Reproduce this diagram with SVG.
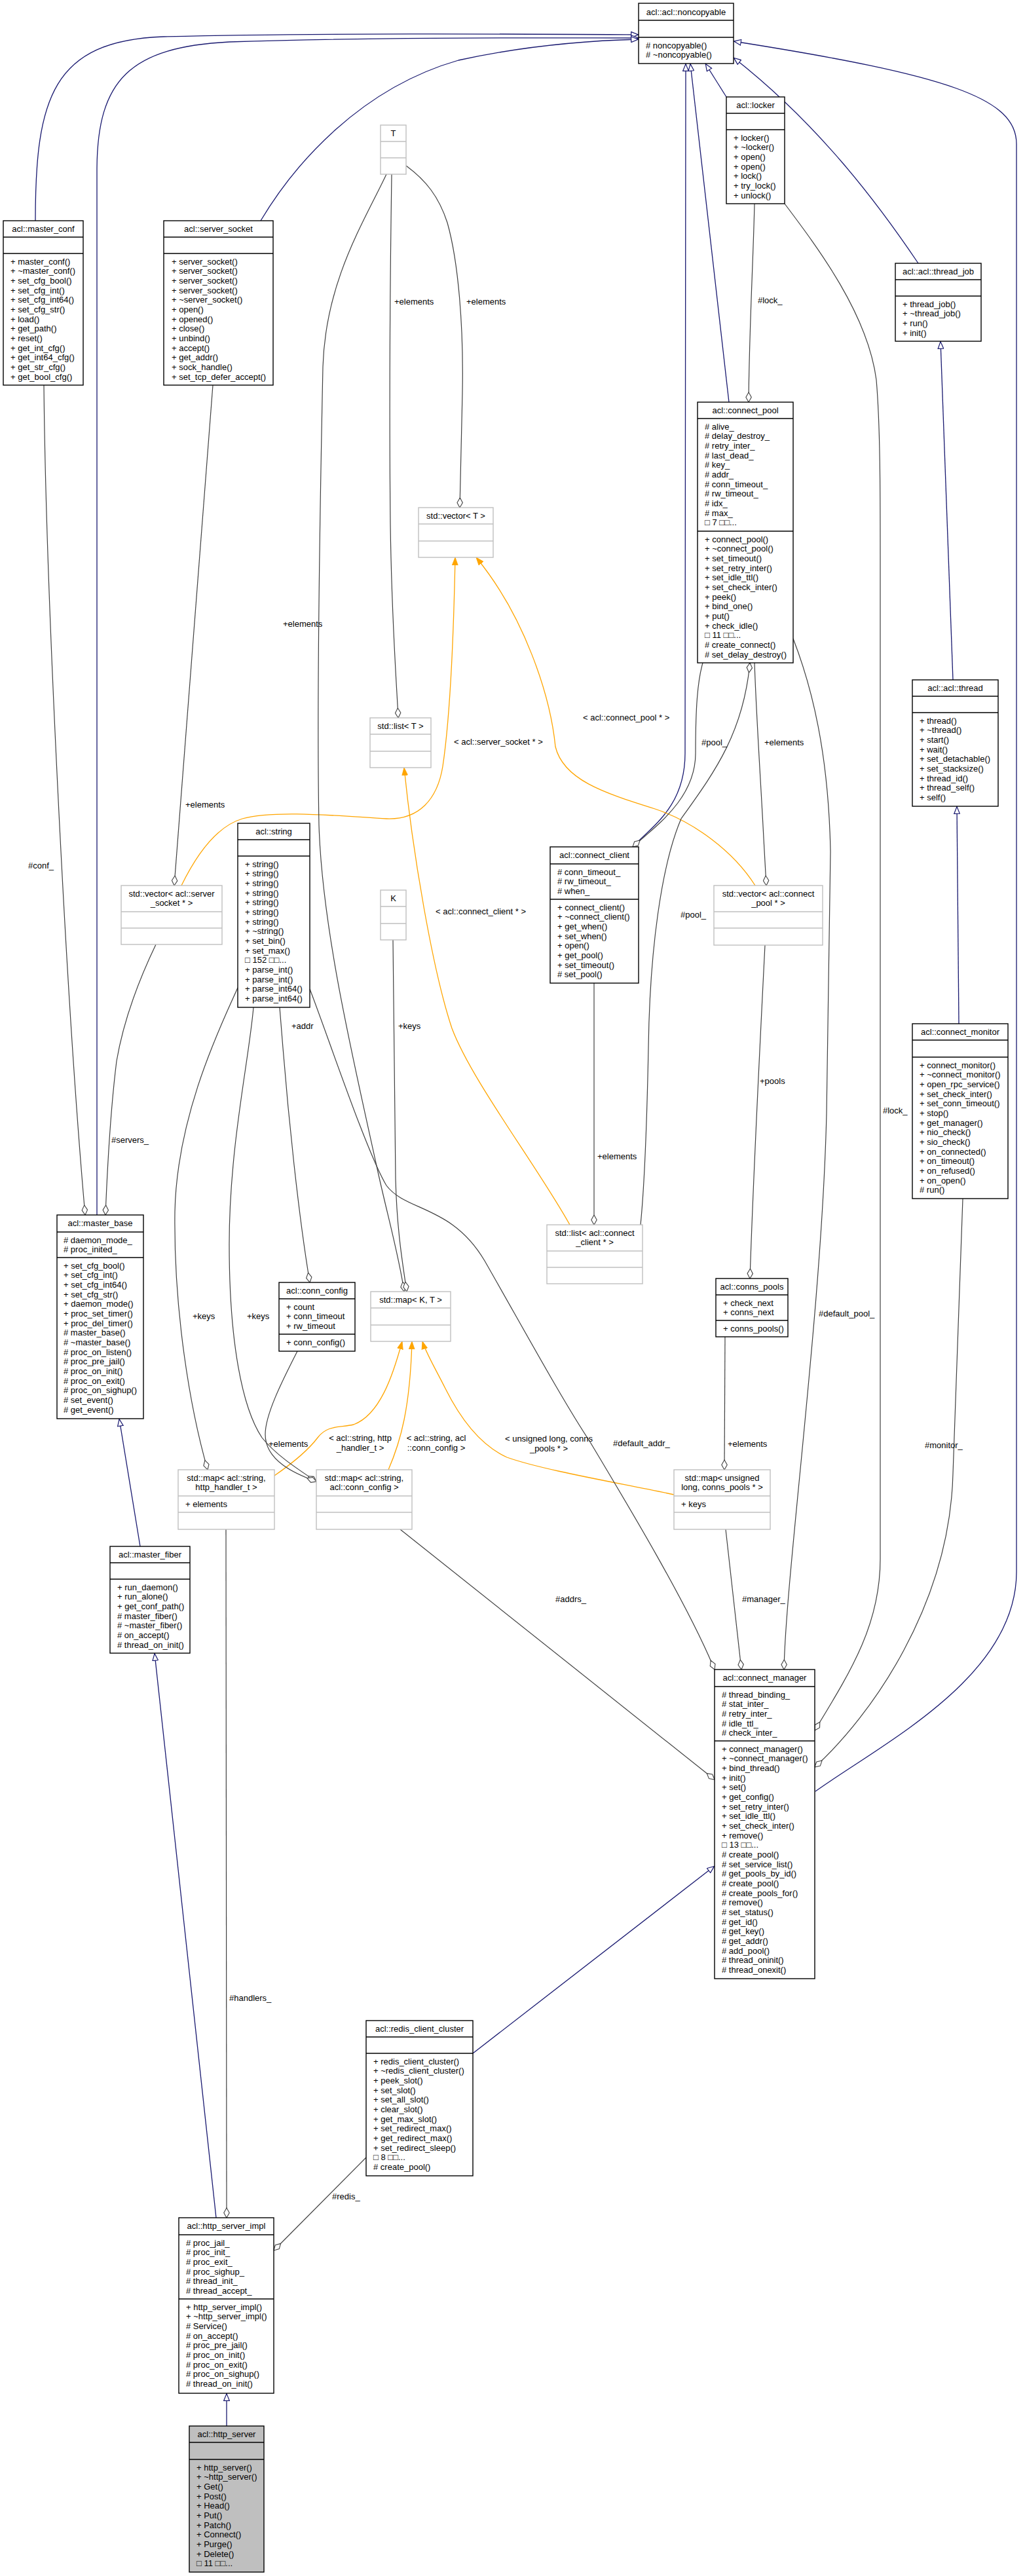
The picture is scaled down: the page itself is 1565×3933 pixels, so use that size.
<svg xmlns="http://www.w3.org/2000/svg" width="1565" height="3933" viewBox="0 0 1565 3933">
<style>
text{font-family:"Liberation Sans",Arial,sans-serif;font-size:13px;fill:#000}
.h{text-anchor:middle}
.c{text-anchor:middle}
.box{fill:#fff;stroke:#000;stroke-width:1.4}
.sel{fill:#bfbfbf;stroke:#000;stroke-width:1.4}
.ext{fill:#fff;stroke:#bfbfbf;stroke-width:1.4}
.s{stroke:#000;stroke-width:1.4}
.sx{stroke:#bfbfbf;stroke-width:1.4}
.inh{fill:none;stroke:#191970;stroke-width:1.3;marker-end:url(#mInh)}
.tpl{fill:none;stroke:#ffa500;stroke-width:1.3;marker-end:url(#mTpl)}
.use{fill:none;stroke:#404040;stroke-width:1.2;marker-end:url(#mDia)}
</style>
<defs>
<marker id="mInh" viewBox="0 0 12 10" refX="12" refY="5" markerWidth="12" markerHeight="10" orient="auto" markerUnits="userSpaceOnUse"><path d="M0.7,0.7 L11.4,5 L0.7,9.3 z" fill="#fff" stroke="#191970" stroke-width="1.2"/></marker>
<marker id="mTpl" viewBox="0 0 12 10" refX="12" refY="5" markerWidth="12" markerHeight="10" orient="auto" markerUnits="userSpaceOnUse"><path d="M0,0.5 L12,5 L0,9.5 z" fill="#ffa500" stroke="#ffa500" stroke-width="0.8"/></marker>
<marker id="mDia" viewBox="0 0 16 10" refX="15.5" refY="5" markerWidth="16" markerHeight="10" orient="auto" markerUnits="userSpaceOnUse"><path d="M0.5,5 L8,0.8 L15.5,5 L8,9.2 z" fill="#fff" stroke="#404040" stroke-width="1.1"/></marker>
</defs>
<rect width="1565" height="3933" fill="#fff"/>

<g id="connectors">
<path class="inh" d="M54,337 C54,150 80,62 250,56 C500,50 800,52 975,53"/>
<path class="inh" d="M148,1855 L148,260 C148,120 200,72 350,64 C600,56 850,58 975,58"/>
<path class="inh" d="M398,337 C450,250 550,135 700,92 C800,70 900,62 975,60"/>
<path class="inh" d="M1109,148 L1077,97"/>
<path class="inh" d="M1113,614 L1054,97"/>
<path class="inh" d="M966,1293 C995,1262 1046,1232 1046,1150 L1047,97"/>
<path class="inh" d="M1402,402 C1340,310 1250,190 1120,88"/>
<path class="inh" d="M1245,2735 C1350,2660 1552,2560 1552,2400 L1552,220 C1552,150 1450,115 1120,63"/>
<path class="inh" d="M1455,1038 L1436,521"/>
<path class="inh" d="M1464,1563 L1461,1231"/>
<path class="inh" d="M214,2361 L182,2166"/>
<path class="inh" d="M330,3386 L236,2524"/>
<path class="inh" d="M346,3704 L346,3654"/>
<path class="inh" d="M722,3135 L1091,2849"/>
<path class="tpl" d="M277,1352 C300,1305 330,1262 370,1250 C420,1236 520,1246 590,1250 C640,1252 668,1220 676,1170 C688,1090 693,950 695,851"/>
<path class="tpl" d="M1153,1352 C1120,1300 1060,1255 1000,1235 C920,1210 860,1190 848,1140 C840,1060 800,940 727,851"/>
<path class="tpl" d="M870,1870 C820,1780 720,1650 690,1570 C660,1480 630,1300 617,1172"/>
<path class="tpl" d="M419,2253 C445,2235 470,2215 485,2195 C500,2175 520,2180 540,2175 C580,2160 600,2100 614,2048"/>
<path class="tpl" d="M593,2244 C612,2200 626,2150 629,2048"/>
<path class="tpl" d="M1029,2282 C950,2265 830,2245 774,2225 C730,2205 700,2160 680,2120 C665,2090 650,2065 645,2048"/>
<path class="use" d="M620,253 C650,275 670,300 683,340 C700,400 708,500 706,600 L702,775"/>
<path class="use" d="M598,266 C596,400 594,600 596,800 C598,950 606,1050 608,1096"/>
<path class="use" d="M590,266 C555,340 497,430 493,560 C488,800 484,1100 487,1260 C492,1420 540,1620 575,1780 C590,1850 610,1920 617,1972"/>
<path class="use" d="M600,1435 L604,1800 C606,1880 615,1930 621,1972"/>
<path class="use" d="M325,588 L266,1352"/>
<path class="use" d="M67,588 C70,900 100,1500 127,1820 L130,1855"/>
<path class="use" d="M238,1442 C215,1490 190,1550 178,1620 C168,1700 164,1780 161,1855"/>
<path class="use" d="M363,1508 C340,1560 270,1700 267,1850 C265,2000 290,2150 317,2244"/>
<path class="use" d="M387,1538 C380,1620 350,1750 350,1900 C350,2050 370,2150 400,2195 C420,2220 450,2240 483,2262"/>
<path class="use" d="M427,1538 L432,1600 C440,1700 455,1850 473,1958"/>
<path class="use" d="M454,2063 C430,2110 405,2160 405,2190 C405,2230 450,2250 483,2262"/>
<path class="use" d="M473,1510 C500,1580 560,1760 590,1810 C620,1850 690,1840 740,1925 C800,2030 860,2140 900,2200 C960,2300 1050,2450 1091,2549"/>
<path class="use" d="M345,2335 L346,3386"/>
<path class="use" d="M611,2335 L1091,2717"/>
<path class="use" d="M1152,311 C1150,400 1144,500 1143,614"/>
<path class="use" d="M1198,311 C1250,380 1325,480 1338,580 C1344,650 1344,750 1344,850 L1344,2380 C1344,2480 1300,2550 1244,2642"/>
<path class="use" d="M1211,975 C1240,1050 1265,1150 1268,1300 L1262,1700 C1255,2000 1200,2400 1197,2549"/>
<path class="use" d="M1073,1012 C1065,1040 1062,1080 1062,1150 C1062,1220 1000,1262 966,1293"/>
<path class="use" d="M978,1870 C985,1800 988,1700 990,1600 C992,1450 1010,1320 1040,1250 C1090,1180 1135,1120 1145,1012"/>
<path class="use" d="M1152,1012 C1155,1100 1162,1200 1166,1280 L1170,1352"/>
<path class="use" d="M907,1501 L907,1870"/>
<path class="use" d="M1168,1443 C1160,1600 1150,1800 1145,1952"/>
<path class="use" d="M1107,2041 L1106,2244"/>
<path class="use" d="M1108,2335 L1132,2549"/>
<path class="use" d="M1470,1830 C1465,1950 1460,2100 1455,2250 C1450,2450 1330,2620 1244,2698"/>
<path class="use" d="M559,3294 L418,3436"/>
</g>

<g id="labels">
<text x="602" y="465">+elements</text>
<text x="712" y="465">+elements</text>
<text x="432" y="957">+elements</text>
<text x="693" y="1137">&lt; acl::server_socket * &gt;</text>
<text x="890" y="1100">&lt; acl::connect_pool * &gt;</text>
<text x="665" y="1396">&lt; acl::connect_client * &gt;</text>
<text x="43" y="1326">#conf_</text>
<text x="283" y="1233">+elements</text>
<text x="170" y="1745">#servers_</text>
<text x="608" y="1571">+keys</text>
<text x="445" y="1571">+addr</text>
<text x="1157" y="463">#lock_</text>
<text x="1348" y="1700">#lock_</text>
<text x="1071" y="1138">#pool_</text>
<text x="1167" y="1138">+elements</text>
<text x="1039" y="1401">#pool_</text>
<text x="1160" y="1655">+pools</text>
<text x="912" y="1770">+elements</text>
<text x="1250" y="2010">#default_pool_</text>
<text x="1412" y="2211">#monitor_</text>
<text x="294" y="2014">+keys</text>
<text x="377" y="2014">+keys</text>
<text x="410" y="2209">+elements</text>
<text class="c" x="550" y="2200">&lt; acl::string, http</text>
<text class="c" x="550" y="2215">_handler_t &gt;</text>
<text class="c" x="666" y="2200">&lt; acl::string, acl</text>
<text class="c" x="666" y="2215">::conn_config &gt;</text>
<text class="c" x="838" y="2201">&lt; unsigned long, conns</text>
<text class="c" x="838" y="2216">_pools * &gt;</text>
<text x="936" y="2208">#default_addr_</text>
<text x="1111" y="2209">+elements</text>
<text x="848" y="2446">#addrs_</text>
<text x="1133" y="2446">#manager_</text>
<text x="350" y="3055">#handlers_</text>
<text x="507" y="3358">#redis_</text>
</g>

<g id="n_noncopyable">
<rect class="box" x="975" y="5" width="145" height="92"/>
<line class="s" x1="975" y1="31" x2="1120" y2="31"/><line class="s" x1="975" y1="57" x2="1120" y2="57"/>
<text class="h" x="1047.5" y="23">acl::acl::noncopyable</text>
<text x="986" y="73.5"><tspan x="986"># noncopyable()</tspan><tspan x="986" dy="14.67"># ~noncopyable()</tspan></text>
</g>

<g id="n_locker">
<rect class="box" x="1109" y="148" width="89" height="163"/>
<line class="s" x1="1109" y1="173" x2="1198" y2="173"/><line class="s" x1="1109" y1="198" x2="1198" y2="198"/>
<text class="h" x="1153.5" y="165">acl::locker</text>
<text x="1120" y="214.5"><tspan x="1120">+ locker()</tspan><tspan x="1120" dy="14.67">+ ~locker()</tspan><tspan x="1120" dy="14.67">+ open()</tspan><tspan x="1120" dy="14.67">+ open()</tspan><tspan x="1120" dy="14.67">+ lock()</tspan><tspan x="1120" dy="14.67">+ try_lock()</tspan><tspan x="1120" dy="14.67">+ unlock()</tspan></text>
</g>

<g id="n_master_conf">
<rect class="box" x="5" y="337" width="122" height="251"/>
<line class="s" x1="5" y1="362" x2="127" y2="362"/><line class="s" x1="5" y1="387" x2="127" y2="387"/>
<text class="h" x="66" y="354">acl::master_conf</text>
<text x="16" y="403.5"><tspan x="16">+ master_conf()</tspan><tspan x="16" dy="14.67">+ ~master_conf()</tspan><tspan x="16" dy="14.67">+ set_cfg_bool()</tspan><tspan x="16" dy="14.67">+ set_cfg_int()</tspan><tspan x="16" dy="14.67">+ set_cfg_int64()</tspan><tspan x="16" dy="14.67">+ set_cfg_str()</tspan><tspan x="16" dy="14.67">+ load()</tspan><tspan x="16" dy="14.67">+ get_path()</tspan><tspan x="16" dy="14.67">+ reset()</tspan><tspan x="16" dy="14.67">+ get_int_cfg()</tspan><tspan x="16" dy="14.67">+ get_int64_cfg()</tspan><tspan x="16" dy="14.67">+ get_str_cfg()</tspan><tspan x="16" dy="14.67">+ get_bool_cfg()</tspan></text>
</g>

<g id="n_server_socket">
<rect class="box" x="250" y="337" width="167" height="251"/>
<line class="s" x1="250" y1="362" x2="417" y2="362"/><line class="s" x1="250" y1="387" x2="417" y2="387"/>
<text class="h" x="333.5" y="354">acl::server_socket</text>
<text x="262" y="403.5"><tspan x="262">+ server_socket()</tspan><tspan x="262" dy="14.67">+ server_socket()</tspan><tspan x="262" dy="14.67">+ server_socket()</tspan><tspan x="262" dy="14.67">+ server_socket()</tspan><tspan x="262" dy="14.67">+ ~server_socket()</tspan><tspan x="262" dy="14.67">+ open()</tspan><tspan x="262" dy="14.67">+ opened()</tspan><tspan x="262" dy="14.67">+ close()</tspan><tspan x="262" dy="14.67">+ unbind()</tspan><tspan x="262" dy="14.67">+ accept()</tspan><tspan x="262" dy="14.67">+ get_addr()</tspan><tspan x="262" dy="14.67">+ sock_handle()</tspan><tspan x="262" dy="14.67">+ set_tcp_defer_accept()</tspan></text>
</g>

<g id="n_T">
<rect class="ext" x="581" y="191" width="39" height="75"/>
<line class="sx" x1="581" y1="216" x2="620" y2="216"/><line class="sx" x1="581" y1="241" x2="620" y2="241"/>
<text class="h" x="600.5" y="208">T</text>
</g>

<g id="n_vector_T">
<rect class="ext" x="639" y="775" width="114" height="76"/>
<line class="sx" x1="639" y1="800" x2="753" y2="800"/><line class="sx" x1="639" y1="826" x2="753" y2="826"/>
<text class="h" x="696" y="792">std::vector&lt; T &gt;</text>
</g>

<g id="n_list_T">
<rect class="ext" x="565" y="1096" width="93" height="76"/>
<line class="sx" x1="565" y1="1121" x2="658" y2="1121"/><line class="sx" x1="565" y1="1147" x2="658" y2="1147"/>
<text class="h" x="611.5" y="1113">std::list&lt; T &gt;</text>
</g>

<g id="n_connect_pool">
<rect class="box" x="1065" y="614" width="146" height="398"/>
<line class="s" x1="1065" y1="639" x2="1211" y2="639"/><line class="s" x1="1065" y1="811" x2="1211" y2="811"/>
<text class="h" x="1138" y="631">acl::connect_pool</text>
<text x="1076" y="655.5"><tspan x="1076"># alive_</tspan><tspan x="1076" dy="14.67"># delay_destroy_</tspan><tspan x="1076" dy="14.67"># retry_inter_</tspan><tspan x="1076" dy="14.67"># last_dead_</tspan><tspan x="1076" dy="14.67"># key_</tspan><tspan x="1076" dy="14.67"># addr_</tspan><tspan x="1076" dy="14.67"># conn_timeout_</tspan><tspan x="1076" dy="14.67"># rw_timeout_</tspan><tspan x="1076" dy="14.67"># idx_</tspan><tspan x="1076" dy="14.67"># max_</tspan><tspan x="1076" dy="14.67">□ 7 □□...</tspan></text>
<text x="1076" y="827.5"><tspan x="1076">+ connect_pool()</tspan><tspan x="1076" dy="14.67">+ ~connect_pool()</tspan><tspan x="1076" dy="14.67">+ set_timeout()</tspan><tspan x="1076" dy="14.67">+ set_retry_inter()</tspan><tspan x="1076" dy="14.67">+ set_idle_ttl()</tspan><tspan x="1076" dy="14.67">+ set_check_inter()</tspan><tspan x="1076" dy="14.67">+ peek()</tspan><tspan x="1076" dy="14.67">+ bind_one()</tspan><tspan x="1076" dy="14.67">+ put()</tspan><tspan x="1076" dy="14.67">+ check_idle()</tspan><tspan x="1076" dy="14.67">□ 11 □□...</tspan><tspan x="1076" dy="14.67"># create_connect()</tspan><tspan x="1076" dy="14.67"># set_delay_destroy()</tspan></text>
</g>

<g id="n_thread_job">
<rect class="box" x="1367" y="402" width="131" height="119"/>
<line class="s" x1="1367" y1="427" x2="1498" y2="427"/><line class="s" x1="1367" y1="452" x2="1498" y2="452"/>
<text class="h" x="1432.5" y="419">acl::acl::thread_job</text>
<text x="1378" y="468.5"><tspan x="1378">+ thread_job()</tspan><tspan x="1378" dy="14.67">+ ~thread_job()</tspan><tspan x="1378" dy="14.67">+ run()</tspan><tspan x="1378" dy="14.67">+ init()</tspan></text>
</g>

<g id="n_thread">
<rect class="box" x="1393" y="1038" width="131" height="193"/>
<line class="s" x1="1393" y1="1063" x2="1524" y2="1063"/><line class="s" x1="1393" y1="1088" x2="1524" y2="1088"/>
<text class="h" x="1458.5" y="1055">acl::acl::thread</text>
<text x="1404" y="1104.5"><tspan x="1404">+ thread()</tspan><tspan x="1404" dy="14.67">+ ~thread()</tspan><tspan x="1404" dy="14.67">+ start()</tspan><tspan x="1404" dy="14.67">+ wait()</tspan><tspan x="1404" dy="14.67">+ set_detachable()</tspan><tspan x="1404" dy="14.67">+ set_stacksize()</tspan><tspan x="1404" dy="14.67">+ thread_id()</tspan><tspan x="1404" dy="14.67">+ thread_self()</tspan><tspan x="1404" dy="14.67">+ self()</tspan></text>
</g>

<g id="n_string">
<rect class="box" x="363" y="1257" width="110" height="281"/>
<line class="s" x1="363" y1="1282" x2="473" y2="1282"/><line class="s" x1="363" y1="1307" x2="473" y2="1307"/>
<text class="h" x="418" y="1274">acl::string</text>
<text x="374" y="1323.5"><tspan x="374">+ string()</tspan><tspan x="374" dy="14.67">+ string()</tspan><tspan x="374" dy="14.67">+ string()</tspan><tspan x="374" dy="14.67">+ string()</tspan><tspan x="374" dy="14.67">+ string()</tspan><tspan x="374" dy="14.67">+ string()</tspan><tspan x="374" dy="14.67">+ string()</tspan><tspan x="374" dy="14.67">+ ~string()</tspan><tspan x="374" dy="14.67">+ set_bin()</tspan><tspan x="374" dy="14.67">+ set_max()</tspan><tspan x="374" dy="14.67">□ 152 □□...</tspan><tspan x="374" dy="14.67">+ parse_int()</tspan><tspan x="374" dy="14.67">+ parse_int()</tspan><tspan x="374" dy="14.67">+ parse_int64()</tspan><tspan x="374" dy="14.67">+ parse_int64()</tspan></text>
</g>

<g id="n_vector_server_socket">
<rect class="ext" x="185" y="1352" width="154" height="90"/>
<line class="sx" x1="185" y1="1392" x2="339" y2="1392"/><line class="sx" x1="185" y1="1417" x2="339" y2="1417"/>
<text class="h" x="262" y="1369">std::vector&lt; acl::server</text>
<text class="h" x="262" y="1383">_socket * &gt;</text>
</g>

<g id="n_K">
<rect class="ext" x="581" y="1359" width="39" height="76"/>
<line class="sx" x1="581" y1="1384" x2="620" y2="1384"/><line class="sx" x1="581" y1="1410" x2="620" y2="1410"/>
<text class="h" x="600.5" y="1376">K</text>
</g>

<g id="n_connect_client">
<rect class="box" x="840" y="1293" width="135" height="208"/>
<line class="s" x1="840" y1="1319" x2="975" y2="1319"/><line class="s" x1="840" y1="1373" x2="975" y2="1373"/>
<text class="h" x="907.5" y="1310">acl::connect_client</text>
<text x="851" y="1335.5"><tspan x="851"># conn_timeout_</tspan><tspan x="851" dy="14.67"># rw_timeout_</tspan><tspan x="851" dy="14.67"># when_</tspan></text>
<text x="851" y="1389.5"><tspan x="851">+ connect_client()</tspan><tspan x="851" dy="14.67">+ ~connect_client()</tspan><tspan x="851" dy="14.67">+ get_when()</tspan><tspan x="851" dy="14.67">+ set_when()</tspan><tspan x="851" dy="14.67">+ open()</tspan><tspan x="851" dy="14.67">+ get_pool()</tspan><tspan x="851" dy="14.67">+ set_timeout()</tspan><tspan x="851" dy="14.67"># set_pool()</tspan></text>
</g>

<g id="n_vector_connect_pool">
<rect class="ext" x="1090" y="1352" width="166" height="91"/>
<line class="sx" x1="1090" y1="1392" x2="1256" y2="1392"/><line class="sx" x1="1090" y1="1417" x2="1256" y2="1417"/>
<text class="h" x="1173" y="1369">std::vector&lt; acl::connect</text>
<text class="h" x="1173" y="1383">_pool * &gt;</text>
</g>

<g id="n_connect_monitor">
<rect class="box" x="1393" y="1563" width="146" height="267"/>
<line class="s" x1="1393" y1="1588" x2="1539" y2="1588"/><line class="s" x1="1393" y1="1614" x2="1539" y2="1614"/>
<text class="h" x="1466" y="1580">acl::connect_monitor</text>
<text x="1404" y="1630.5"><tspan x="1404">+ connect_monitor()</tspan><tspan x="1404" dy="14.67">+ ~connect_monitor()</tspan><tspan x="1404" dy="14.67">+ open_rpc_service()</tspan><tspan x="1404" dy="14.67">+ set_check_inter()</tspan><tspan x="1404" dy="14.67">+ set_conn_timeout()</tspan><tspan x="1404" dy="14.67">+ stop()</tspan><tspan x="1404" dy="14.67">+ get_manager()</tspan><tspan x="1404" dy="14.67">+ nio_check()</tspan><tspan x="1404" dy="14.67">+ sio_check()</tspan><tspan x="1404" dy="14.67">+ on_connected()</tspan><tspan x="1404" dy="14.67">+ on_timeout()</tspan><tspan x="1404" dy="14.67">+ on_refused()</tspan><tspan x="1404" dy="14.67">+ on_open()</tspan><tspan x="1404" dy="14.67"># run()</tspan></text>
</g>

<g id="n_master_base">
<rect class="box" x="87" y="1855" width="132" height="311"/>
<line class="s" x1="87" y1="1881" x2="219" y2="1881"/><line class="s" x1="87" y1="1920" x2="219" y2="1920"/>
<text class="h" x="153" y="1872">acl::master_base</text>
<text x="97" y="1897.5"><tspan x="97"># daemon_mode_</tspan><tspan x="97" dy="14.67"># proc_inited_</tspan></text>
<text x="97" y="1936.5"><tspan x="97">+ set_cfg_bool()</tspan><tspan x="97" dy="14.67">+ set_cfg_int()</tspan><tspan x="97" dy="14.67">+ set_cfg_int64()</tspan><tspan x="97" dy="14.67">+ set_cfg_str()</tspan><tspan x="97" dy="14.67">+ daemon_mode()</tspan><tspan x="97" dy="14.67">+ proc_set_timer()</tspan><tspan x="97" dy="14.67">+ proc_del_timer()</tspan><tspan x="97" dy="14.67"># master_base()</tspan><tspan x="97" dy="14.67"># ~master_base()</tspan><tspan x="97" dy="14.67"># proc_on_listen()</tspan><tspan x="97" dy="14.67"># proc_pre_jail()</tspan><tspan x="97" dy="14.67"># proc_on_init()</tspan><tspan x="97" dy="14.67"># proc_on_exit()</tspan><tspan x="97" dy="14.67"># proc_on_sighup()</tspan><tspan x="97" dy="14.67"># set_event()</tspan><tspan x="97" dy="14.67"># get_event()</tspan></text>
</g>

<g id="n_conn_config">
<rect class="box" x="426" y="1958" width="116" height="105"/>
<line class="s" x1="426" y1="1983" x2="542" y2="1983"/><line class="s" x1="426" y1="2037" x2="542" y2="2037"/>
<text class="h" x="484" y="1975">acl::conn_config</text>
<text x="437" y="1999.5"><tspan x="437">+ count</tspan><tspan x="437" dy="14.67">+ conn_timeout</tspan><tspan x="437" dy="14.67">+ rw_timeout</tspan></text>
<text x="437" y="2053.5">+ conn_config()</text>
</g>

<g id="n_map_K_T">
<rect class="ext" x="566" y="1972" width="122" height="76"/>
<line class="sx" x1="566" y1="1997" x2="688" y2="1997"/><line class="sx" x1="566" y1="2023" x2="688" y2="2023"/>
<text class="h" x="627" y="1989">std::map&lt; K, T &gt;</text>
</g>

<g id="n_list_connect_client">
<rect class="ext" x="835" y="1870" width="146" height="90"/>
<line class="sx" x1="835" y1="1910" x2="981" y2="1910"/><line class="sx" x1="835" y1="1935" x2="981" y2="1935"/>
<text class="h" x="908" y="1887">std::list&lt; acl::connect</text>
<text class="h" x="908" y="1901">_client * &gt;</text>
</g>

<g id="n_conns_pools">
<rect class="box" x="1093" y="1952" width="110" height="89"/>
<line class="s" x1="1093" y1="1977" x2="1203" y2="1977"/><line class="s" x1="1093" y1="2016" x2="1203" y2="2016"/>
<text class="h" x="1148" y="1969">acl::conns_pools</text>
<text x="1104" y="1993.5"><tspan x="1104">+ check_next</tspan><tspan x="1104" dy="14.67">+ conns_next</tspan></text>
<text x="1104" y="2032.5">+ conns_pools()</text>
</g>

<g id="n_map_string_http_handler">
<rect class="ext" x="272" y="2244" width="147" height="91"/>
<line class="sx" x1="272" y1="2284" x2="419" y2="2284"/><line class="sx" x1="272" y1="2309" x2="419" y2="2309"/>
<text class="h" x="345.5" y="2261">std::map&lt; acl::string,</text>
<text class="h" x="345.5" y="2275">http_handler_t &gt;</text>
<text x="283" y="2300.5">+ elements</text>
</g>

<g id="n_map_string_conn_config">
<rect class="ext" x="483" y="2244" width="146" height="91"/>
<line class="sx" x1="483" y1="2284" x2="629" y2="2284"/><line class="sx" x1="483" y1="2309" x2="629" y2="2309"/>
<text class="h" x="556" y="2261">std::map&lt; acl::string,</text>
<text class="h" x="556" y="2275">acl::conn_config &gt;</text>
</g>

<g id="n_map_ulong_conns_pools">
<rect class="ext" x="1029" y="2244" width="147" height="91"/>
<line class="sx" x1="1029" y1="2284" x2="1176" y2="2284"/><line class="sx" x1="1029" y1="2309" x2="1176" y2="2309"/>
<text class="h" x="1102.5" y="2261">std::map&lt; unsigned</text>
<text class="h" x="1102.5" y="2275">long, conns_pools * &gt;</text>
<text x="1040" y="2300.5">+ keys</text>
</g>

<g id="n_master_fiber">
<rect class="box" x="168" y="2361" width="122" height="163"/>
<line class="s" x1="168" y1="2386" x2="290" y2="2386"/><line class="s" x1="168" y1="2411" x2="290" y2="2411"/>
<text class="h" x="229" y="2378">acl::master_fiber</text>
<text x="179" y="2427.5"><tspan x="179">+ run_daemon()</tspan><tspan x="179" dy="14.67">+ run_alone()</tspan><tspan x="179" dy="14.67">+ get_conf_path()</tspan><tspan x="179" dy="14.67"># master_fiber()</tspan><tspan x="179" dy="14.67"># ~master_fiber()</tspan><tspan x="179" dy="14.67"># on_accept()</tspan><tspan x="179" dy="14.67"># thread_on_init()</tspan></text>
</g>

<g id="n_connect_manager">
<rect class="box" x="1091" y="2549" width="153" height="472"/>
<line class="s" x1="1091" y1="2575" x2="1244" y2="2575"/><line class="s" x1="1091" y1="2658" x2="1244" y2="2658"/>
<text class="h" x="1167.5" y="2566">acl::connect_manager</text>
<text x="1102" y="2591.5"><tspan x="1102"># thread_binding_</tspan><tspan x="1102" dy="14.67"># stat_inter_</tspan><tspan x="1102" dy="14.67"># retry_inter_</tspan><tspan x="1102" dy="14.67"># idle_ttl_</tspan><tspan x="1102" dy="14.67"># check_inter_</tspan></text>
<text x="1102" y="2674.5"><tspan x="1102">+ connect_manager()</tspan><tspan x="1102" dy="14.67">+ ~connect_manager()</tspan><tspan x="1102" dy="14.67">+ bind_thread()</tspan><tspan x="1102" dy="14.67">+ init()</tspan><tspan x="1102" dy="14.67">+ set()</tspan><tspan x="1102" dy="14.67">+ get_config()</tspan><tspan x="1102" dy="14.67">+ set_retry_inter()</tspan><tspan x="1102" dy="14.67">+ set_idle_ttl()</tspan><tspan x="1102" dy="14.67">+ set_check_inter()</tspan><tspan x="1102" dy="14.67">+ remove()</tspan><tspan x="1102" dy="14.67">□ 13 □□...</tspan><tspan x="1102" dy="14.67"># create_pool()</tspan><tspan x="1102" dy="14.67"># set_service_list()</tspan><tspan x="1102" dy="14.67"># get_pools_by_id()</tspan><tspan x="1102" dy="14.67"># create_pool()</tspan><tspan x="1102" dy="14.67"># create_pools_for()</tspan><tspan x="1102" dy="14.67"># remove()</tspan><tspan x="1102" dy="14.67"># set_status()</tspan><tspan x="1102" dy="14.67"># get_id()</tspan><tspan x="1102" dy="14.67"># get_key()</tspan><tspan x="1102" dy="14.67"># get_addr()</tspan><tspan x="1102" dy="14.67"># add_pool()</tspan><tspan x="1102" dy="14.67"># thread_oninit()</tspan><tspan x="1102" dy="14.67"># thread_onexit()</tspan></text>
</g>

<g id="n_redis_client_cluster">
<rect class="box" x="559" y="3085" width="163" height="237"/>
<line class="s" x1="559" y1="3110" x2="722" y2="3110"/><line class="s" x1="559" y1="3135" x2="722" y2="3135"/>
<text class="h" x="640.5" y="3102">acl::redis_client_cluster</text>
<text x="570" y="3151.5"><tspan x="570">+ redis_client_cluster()</tspan><tspan x="570" dy="14.67">+ ~redis_client_cluster()</tspan><tspan x="570" dy="14.67">+ peek_slot()</tspan><tspan x="570" dy="14.67">+ set_slot()</tspan><tspan x="570" dy="14.67">+ set_all_slot()</tspan><tspan x="570" dy="14.67">+ clear_slot()</tspan><tspan x="570" dy="14.67">+ get_max_slot()</tspan><tspan x="570" dy="14.67">+ set_redirect_max()</tspan><tspan x="570" dy="14.67">+ get_redirect_max()</tspan><tspan x="570" dy="14.67">+ set_redirect_sleep()</tspan><tspan x="570" dy="14.67">□ 8 □□...</tspan><tspan x="570" dy="14.67"># create_pool()</tspan></text>
</g>

<g id="n_http_server_impl">
<rect class="box" x="273" y="3386" width="145" height="268"/>
<line class="s" x1="273" y1="3412" x2="418" y2="3412"/><line class="s" x1="273" y1="3510" x2="418" y2="3510"/>
<text class="h" x="345.5" y="3403">acl::http_server_impl</text>
<text x="284" y="3428.5"><tspan x="284"># proc_jail_</tspan><tspan x="284" dy="14.67"># proc_init_</tspan><tspan x="284" dy="14.67"># proc_exit_</tspan><tspan x="284" dy="14.67"># proc_sighup_</tspan><tspan x="284" dy="14.67"># thread_init_</tspan><tspan x="284" dy="14.67"># thread_accept_</tspan></text>
<text x="284" y="3526.5"><tspan x="284">+ http_server_impl()</tspan><tspan x="284" dy="14.67">+ ~http_server_impl()</tspan><tspan x="284" dy="14.67"># Service()</tspan><tspan x="284" dy="14.67"># on_accept()</tspan><tspan x="284" dy="14.67"># proc_pre_jail()</tspan><tspan x="284" dy="14.67"># proc_on_init()</tspan><tspan x="284" dy="14.67"># proc_on_exit()</tspan><tspan x="284" dy="14.67"># proc_on_sighup()</tspan><tspan x="284" dy="14.67"># thread_on_init()</tspan></text>
</g>

<g id="n_http_server">
<rect class="sel" x="289" y="3704" width="114" height="223"/>
<line class="s" x1="289" y1="3729" x2="403" y2="3729"/><line class="s" x1="289" y1="3755" x2="403" y2="3755"/>
<text class="h" x="346" y="3721">acl::http_server</text>
<text x="300" y="3771.5"><tspan x="300">+ http_server()</tspan><tspan x="300" dy="14.67">+ ~http_server()</tspan><tspan x="300" dy="14.67">+ Get()</tspan><tspan x="300" dy="14.67">+ Post()</tspan><tspan x="300" dy="14.67">+ Head()</tspan><tspan x="300" dy="14.67">+ Put()</tspan><tspan x="300" dy="14.67">+ Patch()</tspan><tspan x="300" dy="14.67">+ Connect()</tspan><tspan x="300" dy="14.67">+ Purge()</tspan><tspan x="300" dy="14.67">+ Delete()</tspan><tspan x="300" dy="14.67">□ 11 □□...</tspan></text>
</g>
</svg>
